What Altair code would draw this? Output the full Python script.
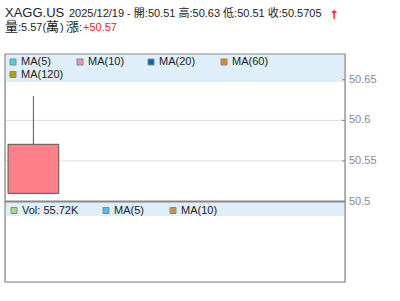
import altair as alt
import pandas as pd

# ---------------- data ----------------
symbol = "XAGG.US"
date_str = "2025/12/19"
idx = [0]
open_p = [50.51]
high_p = [50.63]
low_p = [50.51]
close_p = [50.5705]
vol_wan = "5.57"
vol_k = "55.72K"
change_txt = "+50.57"
y_ticks = [50.5, 50.55, 50.6, 50.65]
ma_labels = ["MA(5)", "MA(10)", "MA(20)", "MA(60)", "MA(120)"]
ma_colors = ["#4fd1cd", "#f590b8", "#0864b4", "#f58220", "#b4a000"]
vol_labels = ["Vol: " + vol_k, "MA(5)", "MA(10)"]
vol_colors = ["#a0dc8c", "#58bcea", "#c8924c"]

# ---------------- layout ----------------
PAD_L, PAD_T, W, H = 5, 54, 340, 228
FONT = "Liberation Sans, Noto Sans CJK TC, sans-serif"
LEG_BG = "#dfeffa"
FRAME = "#888888"

ma_sq_x = [5, 72, 143, 216, 5]
ma_y = [8, 8, 8, 8, 20.5]
vol_sq_x = [6, 98, 165]
vol_y = [156.5, 156.5, 156.5]

candles = pd.DataFrame({"i": idx, "open": open_p, "high": high_p,
                        "low": low_p, "close": close_p})
tick_df = pd.DataFrame({"v": y_ticks})

yscale = alt.Scale(domain=[50.5, 50.65], range=[147.5, 25.8])
xscale = alt.Scale(domain=[-0.56, 6.146])
one = alt.Data(values=[{}])

# gridlines, tick marks and tick labels drawn through the price scale
grid = alt.Chart(tick_df).mark_rule(color="#dddddd", strokeWidth=1).encode(
    y=alt.Y("v:Q", scale=yscale, axis=None), x=alt.value(0), x2=alt.value(W))
ticks = alt.Chart(tick_df).mark_rule(color=FRAME, strokeWidth=1).encode(
    y=alt.Y("v:Q", scale=yscale, axis=None), x=alt.value(W - 3), x2=alt.value(W))
tick_labels = alt.Chart(tick_df).mark_text(
    align="left", baseline="middle", font=FONT, fontSize=11, color="#8a8a8a"
).encode(
    y=alt.Y("v:Q", scale=yscale, axis=None), x=alt.value(W + 4),
    text=alt.Text("v:Q", format=".2~f"))

main_leg_bg = alt.Chart(one).mark_rect(color=LEG_BG).encode(
    x=alt.value(0), x2=alt.value(W - 1), y=alt.value(0), y2=alt.value(28))
vol_leg_bg = alt.Chart(one).mark_rect(color=LEG_BG).encode(
    x=alt.value(0), x2=alt.value(W - 1), y=alt.value(148), y2=alt.value(162))

body = alt.Chart(candles).transform_calculate(
    x0="datum.i - 0.5", x1="datum.i + 0.5"
).mark_rect(fill="#ff8088", stroke="#555555", strokeWidth=1).encode(
    x=alt.X("x0:Q", scale=xscale, axis=None), x2="x1:Q",
    y=alt.Y("open:Q", scale=yscale, axis=None), y2="close:Q")

wick = alt.Chart(candles).transform_calculate(
    top="max(datum.open, datum.close)"
).mark_rule(color="#555555", strokeWidth=1).encode(
    x=alt.X("i:Q", scale=xscale, axis=None),
    y=alt.Y("high:Q", scale=yscale, axis=None), y2="top:Q")

# legends
leg_rows = []
for lab, col, sx, sy in zip(ma_labels, ma_colors, ma_sq_x, ma_y):
    leg_rows.append({"label": lab, "color": col, "sx": sx, "sy": sy})
for lab, col, sx, sy in zip(vol_labels, vol_colors, vol_sq_x, vol_y):
    leg_rows.append({"label": lab, "color": col, "sx": sx, "sy": sy})
leg = pd.DataFrame(leg_rows)
leg["sx2"] = leg["sx"] + 6
leg["sy0"] = leg["sy"] - 3
leg["sy1"] = leg["sy"] + 3
leg["tx"] = leg["sx"] + 11

squares = alt.Chart(leg).mark_rect(stroke=FRAME, strokeWidth=1).encode(
    x=alt.X("sx:Q", scale=None, axis=None), x2="sx2:Q",
    y=alt.Y("sy0:Q", scale=None, axis=None), y2="sy1:Q",
    fill=alt.Fill("color:N", scale=None, legend=None))
labels = alt.Chart(leg).mark_text(align="left", baseline="middle", font=FONT,
                                  fontSize=11, color="#222222").encode(
    x=alt.X("tx:Q", scale=None, axis=None),
    y=alt.Y("sy:Q", scale=None, axis=None), text="label:N")

# frame and separator
frame = alt.Chart(one).mark_rect(fill=None, stroke=FRAME, strokeWidth=1.2).encode(
    x=alt.value(0), x2=alt.value(W), y=alt.value(0), y2=alt.value(H))
sep = alt.Chart(pd.DataFrame({"v": [y_ticks[0]]})).mark_rule(color=FRAME, strokeWidth=2).encode(
    y=alt.Y("v:Q", scale=yscale, axis=None), x=alt.value(0), x2=alt.value(W))

# header text pieces
line1 = f"{date_str} - 開:{open_p[0]:.2f} 高:{high_p[0]:.2f} 低:{low_p[0]:.2f} 收:{close_p[0]}"
hdr_text = [symbol, line1, "量", ":" + vol_wan + "(", "萬", ")", "漲", ":", change_txt]
hdr_x = [0, 64, 0, 13, 41, 55, 61, 74, 78]
hdr_y = [-37, -37, -23, -23, -23, -23, -23, -23, -23]
hdr_size = [13, 11, 13, 11, 13, 11, 13, 11, 11]
hdr_color = ["#222222", "#222222", "#222222", "#222222", "#222222",
             "#222222", "#222222", "#222222", "#ff2020"]
hdr = pd.DataFrame({"t": hdr_text, "x": hdr_x, "y": hdr_y, "s": hdr_size, "c": hdr_color})
header = alt.Chart(hdr).mark_text(align="left", baseline="alphabetic", font=FONT).encode(
    x=alt.X("x:Q", scale=None, axis=None), y=alt.Y("y:Q", scale=None, axis=None),
    text="t:N", size=alt.Size("s:Q", scale=None, legend=None),
    color=alt.Color("c:N", scale=None, legend=None))
arrow = alt.Chart(one).mark_text(align="left", baseline="alphabetic", font="DejaVu Sans",
                                 fontSize=12, fontWeight="bold", color="#ff2020").encode(
    x=alt.value(324), y=alt.value(-35), text=alt.value("↑"))

chart = alt.layer(
    grid, main_leg_bg, vol_leg_bg, body, wick, ticks, tick_labels, squares, labels,
    sep, frame, header, arrow
).properties(
    width=W, height=H,
    padding={"left": PAD_L, "top": PAD_T, "right": 400 - PAD_L - W, "bottom": 301 - PAD_T - H},
    autosize=alt.AutoSizeParams(type="none"),
).configure_view(stroke=None).configure(background="white")

chart.save("out.html", embed_options={"renderer": "svg", "actions": False})
